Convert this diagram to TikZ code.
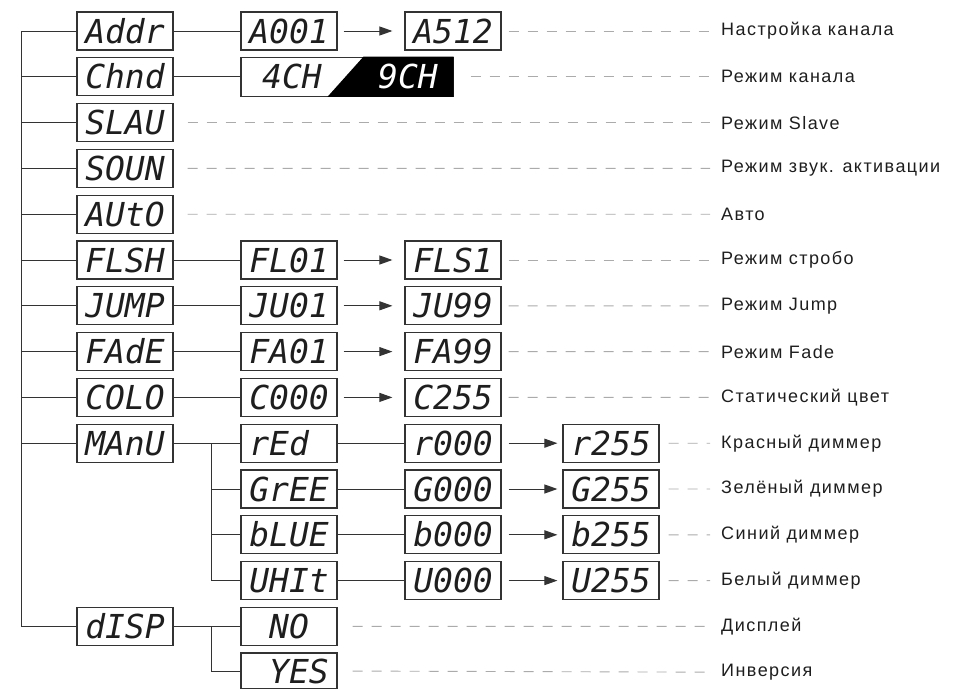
\documentclass[tikz,border=0pt]{standalone}
\usepackage{fontspec}
\setmainfont{Liberation Sans}
\newfontfamily\segfont{DejaVu Sans Mono}
\newfontfamily\descfont{Liberation Sans}[LetterSpace=8]
\usetikzlibrary{arrows.meta}

\definecolor{linegray}{HTML}{333333}
\definecolor{dashgray}{HTML}{ABABAB}
\definecolor{textdark}{HTML}{1E1E1E}

\tikzset{
  segbox/.style={draw=linegray, line width=1.2pt, minimum width=96pt, minimum height=38pt,
    inner sep=0pt, text height=24pt, text depth=0pt, text=textdark,
    font=\segfont\itshape\fontsize{33}{33}\selectfont},
  segtext/.style={inner sep=0pt, text height=24pt, text depth=0pt,
    font=\segfont\itshape\fontsize{33}{33}\selectfont},
  link/.style={draw=linegray, line width=1pt},
  next/.style={link, -{Triangle[length=13pt,width=9pt]}},
  lead/.style={draw=dashgray, line width=0.9pt, dash pattern=on 10pt off 9pt, shorten >=11pt},
  desc/.style={anchor=west, inner sep=0pt, text=textdark, font=\descfont\fontsize{18}{21}\selectfont},
}

\begin{document}
\begin{tikzpicture}[x=1pt, y=-1pt]
  \useasboundingbox (0,0) rectangle (955,688);

  % Hauptmenue
  \node[segbox] (addr) at (125,31)    {Addr};
  \node[segbox] (chnd) at (125,76.8)  {Chnd};
  \node[segbox] (slau) at (125,122.6) {SLAU};
  \node[segbox] (soun) at (125,168.4) {SOUN};
  \node[segbox] (auto) at (125,214.2) {AUtO};
  \node[segbox] (flsh) at (125,260)   {FLSH};
  \node[segbox] (jump) at (125,305.8) {JUMP};
  \node[segbox] (fade) at (125,351.6) {FAdE};
  \node[segbox] (colo) at (125,397.4) {COLO};
  \node[segbox] (manu) at (125,443.2) {MAnU};
  \node[segbox] (disp) at (125,626.4) {dISP};

  % Startwerte
  \node[segbox] (a001) at (289,31)    {A001};
  \node[segbox] (fl01) at (289,260)   {FL01};
  \node[segbox] (ju01) at (289,305.8) {JU01};
  \node[segbox] (fa01) at (289,351.6) {FA01};
  \node[segbox] (c000) at (289,397.4) {C000};
  \node[segbox] (red)  at (289,443.2) {rEd\phantom{0}};
  \node[segbox] (gree) at (289,489)   {GrEE};
  \node[segbox] (blue) at (289,534.8) {bLUE};
  \node[segbox] (whit) at (289,580.6) {UHIt};
  \node[segbox] (no)   at (289,626.4) {NO};
  \node[segbox, minimum height=36pt] (yes) at (289,671) {\phantom{0}YES};

  % Kanalmodus 4CH / 9CH
  \node[segbox, minimum width=212pt, minimum height=39pt] (chmode) at (347,76.8) {};
  \fill[black] ([xshift=87pt]chmode.south west) -- ([xshift=123pt]chmode.north west)
    -- (chmode.north east) -- (chmode.south east) -- cycle;
  \node[segtext, text=textdark] (ch4) at (292,76.8) {4CH};
  \node[segtext, text=white] (ch9) at (408,76.8) {9CH};

  % Endwerte
  \node[segbox] (a512) at (453,31)    {A512};
  \node[segbox] (fls1) at (453,260)   {FLS1};
  \node[segbox] (ju99) at (453,305.8) {JU99};
  \node[segbox] (fa99) at (453,351.6) {FA99};
  \node[segbox] (c255) at (453,397.4) {C255};
  \node[segbox] (r000) at (453,443.2) {r000};
  \node[segbox] (g000) at (453,489)   {G000};
  \node[segbox] (b000) at (453,534.8) {b000};
  \node[segbox] (u000) at (453,580.6) {U000};

  % Dimmer-Endwerte
  \node[segbox] (r255) at (611,443.2) {r255};
  \node[segbox] (g255) at (611,489)   {G255};
  \node[segbox] (b255) at (611,534.8) {b255};
  \node[segbox] (u255) at (611,580.6) {U255};

  % Beschreibungen
  \foreach \txt [count=\i from 0] in {Настройка канала, Режим канала, Режим Slave,
      Режим звук. активации, Авто, Режим стробо, Режим Jump, Режим Fade,
      Статический цвет, Красный диммер, Зелёный диммер, Синий диммер,
      Белый диммер, Дисплей, Инверсия}
    \node[desc] (lab\i) at (721,{31+45.8*\i}) {\txt};

  % Stamm
  \coordinate (trunk) at (21,0);
  \coordinate (mbus) at (211,0);
  \draw[link] (addr.west) -- (addr.west -| trunk) |- (disp.west);
  \foreach \n in {chnd,slau,soun,auto,flsh,jump,fade,colo,manu}
    \draw[link] (\n.west -| trunk) -- (\n.west);

  % Verbindungen
  \draw[link] (addr) -- (a001);
  \draw[link] (chnd) -- (chmode);
  \draw[link] (flsh) -- (fl01);
  \draw[link] (jump) -- (ju01);
  \draw[link] (fade) -- (fa01);
  \draw[link] (colo) -- (c000);
  \foreach \a/\b in {a001/a512,fl01/fls1,ju01/ju99,fa01/fa99,c000/c255}
    \draw[next, shorten <=6pt, shorten >=12pt] (\a) -- (\b);

  % MAnU
  \draw[link] (manu) -- (red);
  \draw[link] (red.west -| mbus) |- (whit.west);
  \foreach \n in {gree,blue}
    \draw[link] (\n.west -| mbus) -- (\n.west);
  \foreach \a/\b in {red/r000,gree/g000,blue/b000,whit/u000}
    \draw[link] (\a) -- (\b);
  \foreach \a/\b in {r000/r255,g000/g255,b000/b255,u000/u255}
    \draw[next, shorten <=7pt, shorten >=5pt] (\a) -- (\b);

  % dISP
  \draw[link] (disp) -- (no);
  \draw[link] (no.west -| mbus) |- (yes.west);

  % gestrichelte Hinweislinien
  \draw[lead, shorten <=7pt]  (a512.east)   -- (lab0.west);
  \draw[lead, shorten <=17pt] (chmode.east) -- (lab1.west);
  \draw[lead, shorten <=14pt] (slau.east)   -- (lab2.west);
  \draw[lead, shorten <=14pt] (soun.east)   -- (lab3.west);
  \draw[lead, shorten <=14pt] (auto.east)   -- (lab4.west);
  \draw[lead, shorten <=7pt]  (fls1.east)   -- (lab5.west);
  \draw[lead, shorten <=7pt]  (ju99.east)   -- (lab6.west);
  \draw[lead, shorten <=7pt]  (fa99.east)   -- (lab7.west);
  \draw[lead, shorten <=7pt]  (c255.east)   -- (lab8.west);
  \draw[lead, shorten <=9pt]  (r255.east)   -- (lab9.west);
  \draw[lead, shorten <=9pt]  (g255.east)   -- (lab10.west);
  \draw[lead, shorten <=9pt]  (b255.east)   -- (lab11.west);
  \draw[lead, shorten <=9pt]  (u255.east)   -- (lab12.west);
  \draw[lead, shorten <=15pt] (no.east)     -- (lab13.west);
  \draw[lead, shorten <=15pt] (yes.east)    -- (lab14.west);
\end{tikzpicture}
\end{document}
